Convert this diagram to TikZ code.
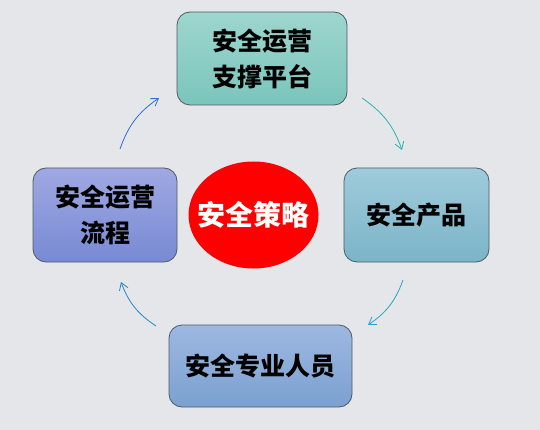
\documentclass[tikz,border=0pt]{standalone}
\usepackage{fontspec}
\newfontfamily\cjk{Noto Sans CJK SC}
\usetikzlibrary{arrows.meta,shapes.geometric}
\definecolor{bg}{HTML}{E4E6EA}
\definecolor{edge}{HTML}{4F5A62}
\tikzset{
  box/.style={draw=edge, line width=0.8pt, rounded corners=13pt, align=center,
    font=\cjk\bfseries\fontsize{25}{36}\selectfont, text=black, inner sep=0pt},
  arr/.style={line width=0.8pt, -{Straight Barb[length=7pt,width=9pt]}, bend left=18},
}
\begin{document}
\begin{tikzpicture}[x=1pt,y=-1pt]
\fill[bg] (0,0) rectangle (540,430);
\useasboundingbox (0,0) rectangle (540,430);
\node[box, minimum width=170pt, minimum height=93pt,
  top color={rgb,255:red,157;green,214;blue,206}, bottom color={rgb,255:red,123;green,197;blue,188}] (top) at (262,58.5) {安全运营\\支撑平台};
\node[box, minimum width=145pt, minimum height=94pt,
  top color={rgb,255:red,159;green,203;blue,219}, bottom color={rgb,255:red,123;green,180;blue,200}] (right) at (416.5,215) {安全产品};
\node[box, minimum width=144pt, minimum height=94pt,
  top color={rgb,255:red,159;green,168;blue,226}, bottom color={rgb,255:red,120;green,138;blue,212}] (left) at (105,215) {安全运营\\流程};
\node[box, minimum width=183pt, minimum height=82pt,
  top color={rgb,255:red,157;green,184;blue,225}, bottom color={rgb,255:red,123;green,160;blue,208}] (bottom) at (260.5,366) {安全专业人员};
\node[ellipse, fill=red, minimum width=130pt, minimum height=107pt, inner sep=0pt] (center) at (253.5,215) {};
\node[font=\cjk\bfseries\fontsize{28}{34}\selectfont, text=white, inner sep=0pt] (ctext) at (center.center) {安全策略};
\coordinate (a1s) at (362,98);  \coordinate (a1e) at (402,150);
\coordinate (a2s) at (403,280); \coordinate (a2e) at (368,325);
\coordinate (a3s) at (156,326); \coordinate (a3e) at (121,282);
\coordinate (a4s) at (120,149); \coordinate (a4e) at (159,98);
\draw[arr, color={rgb,255:red,42;green,180;blue,176}] (a1s) to (a1e);
\draw[arr, color={rgb,255:red,38;green,166;blue,196}] (a2s) to (a2e);
\draw[arr, color={rgb,255:red,36;green,134;blue,200}] (a3s) to (a3e);
\draw[arr, color={rgb,255:red,48;green,110;blue,210}] (a4s) to (a4e);
\end{tikzpicture}
\end{document}
